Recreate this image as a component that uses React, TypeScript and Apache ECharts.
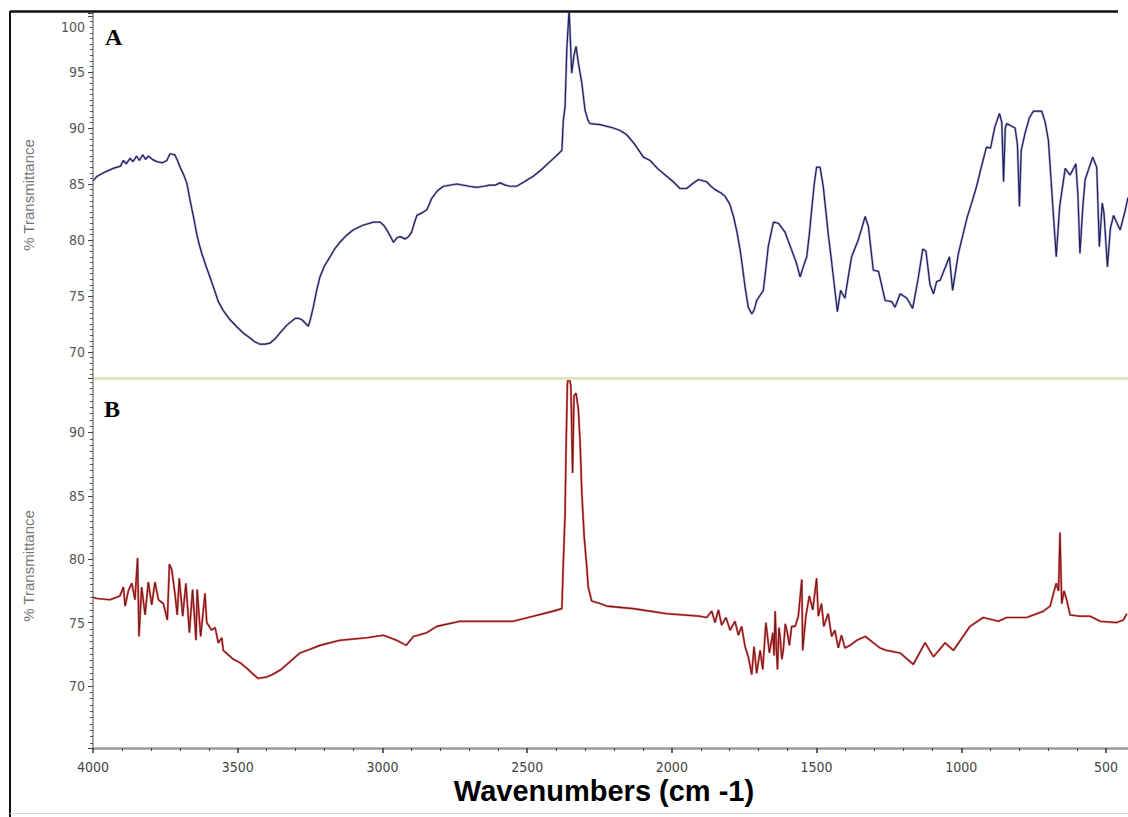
import React, { useEffect, useRef } from "react";
import * as echarts from "echarts";

// Spectrum A: [wavenumber cm-1, % transmittance]
const spectrumA: [number, number][] = [
  [4000, 85.3], [3985, 85.7], [3964, 86.0], [3930, 86.4], [3905, 86.6], [3895, 87.1], [3885, 86.8],
  [3872, 87.3], [3862, 87.0], [3849, 87.5], [3840, 87.1], [3828, 87.6], [3818, 87.2], [3809, 87.5],
  [3795, 87.2], [3780, 87.0], [3760, 86.9], [3745, 87.1], [3734, 87.7], [3717, 87.6], [3708, 87.1],
  [3699, 86.5], [3688, 85.9], [3676, 85.1], [3665, 83.6], [3653, 82.1], [3642, 80.6], [3633, 79.6],
  [3624, 78.8], [3610, 77.7], [3596, 76.7], [3580, 75.5], [3567, 74.5], [3550, 73.7], [3527, 72.9],
  [3505, 72.3], [3481, 71.7], [3455, 71.2], [3440, 70.9], [3423, 70.7], [3405, 70.7], [3388, 70.8],
  [3370, 71.2], [3354, 71.7], [3330, 72.4], [3302, 73.0], [3290, 73.0], [3279, 72.9], [3256, 72.3],
  [3248, 73.0], [3239, 74.0], [3228, 75.4], [3216, 76.7], [3200, 77.7], [3181, 78.5], [3165, 79.2],
  [3147, 79.8], [3125, 80.4], [3101, 80.9], [3070, 81.3], [3031, 81.6], [3008, 81.6], [2995, 81.3],
  [2985, 80.9], [2972, 80.3], [2962, 79.8], [2950, 80.2], [2939, 80.3], [2922, 80.1], [2910, 80.3],
  [2899, 80.7], [2890, 81.5], [2881, 82.2], [2865, 82.4], [2847, 82.7], [2838, 83.2], [2830, 83.7],
  [2810, 84.4], [2789, 84.8], [2743, 85.0], [2700, 84.8], [2674, 84.7], [2650, 84.8], [2630, 84.9],
  [2610, 84.9], [2594, 85.1], [2575, 84.9], [2560, 84.8], [2536, 84.8], [2510, 85.2], [2479, 85.7],
  [2450, 86.3], [2421, 87.0], [2400, 87.5], [2380, 88.0], [2375, 90.7], [2369, 91.9], [2363, 97.0],
  [2355, 100.6], [2346, 94.9], [2338, 96.5], [2331, 97.3], [2323, 95.8], [2311, 94.0], [2300, 91.6],
  [2290, 90.7], [2283, 90.4], [2248, 90.3], [2202, 90.0], [2180, 89.8], [2156, 89.4], [2130, 88.6],
  [2098, 87.4], [2075, 87.1], [2050, 86.4], [2018, 85.7], [1995, 85.2], [1972, 84.6], [1949, 84.6],
  [1930, 85.0], [1908, 85.4], [1880, 85.2], [1865, 84.8], [1851, 84.5], [1830, 84.2], [1816, 83.9],
  [1800, 83.2], [1787, 82.1], [1775, 80.7], [1764, 79.1], [1755, 77.4], [1747, 75.8], [1736, 74.0],
  [1724, 73.4], [1715, 73.8], [1707, 74.6], [1684, 75.5], [1675, 77.5], [1667, 79.4], [1649, 81.6],
  [1632, 81.5], [1609, 80.7], [1586, 79.1], [1569, 77.9], [1557, 76.7], [1546, 77.6], [1534, 78.5],
  [1525, 80.5], [1517, 82.7], [1508, 85.0], [1500, 86.5], [1488, 86.5], [1477, 84.8], [1468, 82.6],
  [1460, 80.6], [1450, 78.5], [1442, 76.7], [1428, 73.6], [1417, 75.5], [1402, 74.8], [1390, 76.8],
  [1379, 78.5], [1356, 80.0], [1332, 82.1], [1321, 81.2], [1304, 77.3], [1286, 77.2], [1263, 74.6],
  [1240, 74.5], [1229, 74.0], [1211, 75.2], [1188, 74.8], [1168, 73.9], [1150, 76.4], [1133, 79.2],
  [1122, 79.0], [1108, 76.0], [1096, 75.2], [1085, 76.3], [1073, 76.4], [1041, 78.5], [1030, 75.5],
  [1010, 78.8], [995, 80.4], [980, 82.0], [962, 83.5], [947, 84.8], [930, 86.6], [913, 88.3],
  [899, 88.2], [884, 90.1], [868, 91.3], [860, 90.5], [854, 85.2], [848, 90.0], [843, 90.4],
  [814, 90.0], [806, 88.5], [799, 83.0], [793, 88.0], [780, 89.5], [765, 90.9], [751, 91.5],
  [722, 91.5], [710, 90.5], [699, 88.9], [685, 83.5], [672, 78.5], [660, 83.0], [641, 86.4],
  [624, 85.8], [604, 86.8], [597, 84.0], [590, 78.8], [580, 83.0], [572, 85.4], [546, 87.4],
  [532, 86.5], [523, 79.4], [513, 83.3], [507, 82.4], [495, 77.6], [485, 81.0], [474, 82.2],
  [451, 80.9], [435, 82.5], [424, 83.8],
];

// Spectrum B: [wavenumber cm-1, % transmittance]
const spectrumB: [number, number][] = [
  [4000, 77.0], [3987, 76.9], [3941, 76.8], [3907, 77.1], [3895, 77.8], [3889, 76.3], [3878, 77.5],
  [3866, 78.1], [3855, 76.8], [3846, 80.1], [3841, 73.9], [3832, 77.8], [3820, 75.6], [3809, 78.2],
  [3797, 76.4], [3786, 78.2], [3774, 76.8], [3757, 76.5], [3743, 75.2], [3736, 79.6], [3728, 79.2],
  [3717, 77.3], [3709, 75.6], [3702, 78.5], [3690, 75.5], [3679, 78.1], [3667, 74.2], [3656, 77.6],
  [3644, 73.6], [3640, 77.6], [3628, 73.9], [3613, 77.3], [3607, 75.0], [3590, 74.4], [3578, 74.6],
  [3567, 73.4], [3555, 73.8], [3550, 72.8], [3530, 72.4], [3515, 72.1], [3490, 71.8], [3469, 71.4],
  [3450, 71.0], [3430, 70.6], [3400, 70.7], [3380, 70.9], [3350, 71.3], [3330, 71.7], [3300, 72.3],
  [3285, 72.6], [3250, 72.9], [3216, 73.2], [3147, 73.6], [3054, 73.8], [2997, 74.0], [2951, 73.6],
  [2918, 73.2], [2893, 73.9], [2847, 74.2], [2812, 74.7], [2732, 75.1], [2640, 75.1], [2548, 75.1],
  [2479, 75.5], [2410, 75.9], [2380, 76.1], [2375, 79.7], [2369, 83.6], [2366, 88.1], [2361, 93.8],
  [2356, 94.6], [2352, 94.0], [2349, 93.7], [2343, 86.8], [2338, 92.9], [2331, 93.1], [2323, 91.8],
  [2317, 89.2], [2311, 85.2], [2303, 81.8], [2294, 79.4], [2289, 77.8], [2277, 76.7], [2248, 76.5],
  [2225, 76.3], [2133, 76.1], [2018, 75.7], [1903, 75.5], [1880, 75.4], [1862, 75.9], [1851, 75.0],
  [1839, 76.0], [1828, 74.8], [1813, 75.4], [1799, 74.4], [1782, 75.1], [1770, 74.0], [1759, 74.7],
  [1747, 73.1], [1736, 72.3], [1724, 70.9], [1716, 73.1], [1707, 71.0], [1695, 72.8], [1686, 71.3],
  [1675, 75.0], [1663, 72.6], [1651, 74.2], [1647, 72.4], [1643, 75.9], [1639, 73.0], [1635, 71.3],
  [1630, 74.6], [1626, 73.9], [1620, 72.1], [1615, 72.8], [1608, 74.9], [1601, 74.2], [1594, 73.2],
  [1586, 74.7], [1574, 74.7], [1563, 75.5], [1551, 78.4], [1548, 72.8], [1537, 75.5], [1525, 77.1],
  [1513, 76.0], [1500, 78.5], [1494, 75.5], [1483, 76.5], [1475, 74.7], [1460, 75.7], [1448, 73.9],
  [1437, 74.4], [1425, 73.0], [1414, 74.0], [1402, 73.0], [1384, 73.2], [1361, 73.6], [1332, 73.9],
  [1309, 73.5], [1281, 73.0], [1258, 72.8], [1211, 72.6], [1166, 71.7], [1125, 73.4], [1096, 72.3],
  [1056, 73.4], [1027, 72.8], [970, 74.7], [924, 75.4], [872, 75.1], [843, 75.4], [774, 75.4],
  [716, 75.9], [693, 76.3], [672, 78.1], [664, 77.5], [659, 82.1], [653, 76.5], [645, 77.5],
  [636, 76.8], [624, 75.6], [590, 75.5], [555, 75.5], [520, 75.1], [463, 75.0], [440, 75.2],
  [428, 75.7],
];

const xTitle = "Wavenumbers (cm -1)";
const yTitle = "% Transmittance";
const panelLabels = ["A", "B"];
const topLabelA = "100";

const labelFont = "'Liberation Sans Narrow', 'DejaVu Sans Condensed', 'Liberation Sans', sans-serif";

export default function App() {
  const ref = useRef<HTMLDivElement>(null);
  useEffect(() => {
    if (!ref.current) return;
    const chart = echarts.init(ref.current, null, { renderer: "svg" });
    const pxPerUnit = 1013 / 3500;
    const gridWidth = 4000 * pxPerUnit;

    const yAxisCommon = {
      type: "value",
      splitLine: { show: false },
      minorSplitLine: { show: false },
      axisLine: { show: true, onZero: false, lineStyle: { color: "#8a8a8a", width: 1.5 } },
      axisTick: { show: true, length: 5, lineStyle: { color: "#444", width: 1 } },
      minorTick: { show: true, splitNumber: 10, length: 3, lineStyle: { color: "#555", width: 1 } },
      axisLabel: {
        show: true,
        margin: 8,
        color: "#555",
        fontSize: 14,
        fontFamily: labelFont,
        showMinLabel: false,
        showMaxLabel: false,
        formatter: (v: number) => (Math.round(v) >= 100 ? "" : String(Math.round(v))),
      },
    };

    chart.setOption({
      animation: false,
      backgroundColor: "#ffffff",
      grid: [
        { left: 93, top: 13, width: gridWidth, height: 365, outerBoundsMode: "none", containLabel: false },
        { left: 93, top: 378, width: gridWidth, height: 370, outerBoundsMode: "none", containLabel: false },
      ],
      xAxis: [
        { gridIndex: 0, type: "value", min: 0, max: 4000, inverse: true, show: false },
        {
          gridIndex: 1,
          type: "value",
          min: 0,
          max: 4000,
          interval: 500,
          inverse: true,
          splitLine: { show: false },
          minorSplitLine: { show: false },
          axisLine: { show: true, onZero: false, lineStyle: { color: "#9a9a9a", width: 2.5 } },
          axisTick: { show: true, length: 5, lineStyle: { color: "#333", width: 1.5 } },
          minorTick: { show: true, splitNumber: 5, length: 3, lineStyle: { color: "#444", width: 1 } },
          axisLabel: {
            margin: 12,
            color: "#444",
            fontSize: 14,
            fontFamily: labelFont,
            showMinLabel: false,
            formatter: (v: number) => (v === 0 ? "" : String(v)),
          },
        },
      ],
      yAxis: [
        { ...yAxisCommon, gridIndex: 0, min: 67.68, max: 100.27 },
        { ...yAxisCommon, gridIndex: 1, min: 65.1, max: 94.3 },
      ],
      series: [
        {
          type: "line", xAxisIndex: 0, yAxisIndex: 0, data: spectrumA, showSymbol: false,
          lineStyle: { color: "#b4b4d8", width: 2.4 }, z: 2, silent: true,
        },
        {
          type: "line", xAxisIndex: 0, yAxisIndex: 0, data: spectrumA, showSymbol: false,
          lineStyle: { color: "#1f1f5c", width: 1.2 }, z: 3, silent: true,
        },
        {
          type: "line", xAxisIndex: 1, yAxisIndex: 1, data: spectrumB, showSymbol: false,
          lineStyle: { color: "#f03030", width: 2.2, opacity: 0.75 }, z: 2, silent: true,
        },
        {
          type: "line", xAxisIndex: 1, yAxisIndex: 1, data: spectrumB, showSymbol: false,
          lineStyle: { color: "#6a1c1c", width: 1.1 }, z: 3, silent: true,
        },
      ],
      graphic: [
        { type: "line", shape: { x1: 10, y1: 11.5, x2: 1118, y2: 11.5 }, style: { stroke: "#111", lineWidth: 2.5 }, z: 10 },
        { type: "line", shape: { x1: 10, y1: 11, x2: 10, y2: 817 }, style: { stroke: "#111", lineWidth: 2 }, z: 10 },
        { type: "line", shape: { x1: 10, y1: 813.5, x2: 1128, y2: 813.5 }, style: { stroke: "#d8d8d8", lineWidth: 1 }, z: 10 },
        { type: "rect", shape: { x: 94, y: 377, width: 1034, height: 3 }, style: { fill: "#e3e3c6" }, z: 9 },
        {
          type: "text", x: 85, y: 27,
          style: { text: topLabelA, fill: "#555", font: "14px " + labelFont, verticalAlign: "middle", align: "right" },
          z: 11,
        },
        {
          type: "text", x: 105, y: 37,
          style: { text: panelLabels[0], fill: "#000", font: "bold 24px 'Liberation Serif', 'Times New Roman', serif", verticalAlign: "middle", align: "left" },
          z: 11,
        },
        {
          type: "text", x: 104, y: 409,
          style: { text: panelLabels[1], fill: "#000", font: "bold 24px 'Liberation Serif', 'Times New Roman', serif", verticalAlign: "middle", align: "left" },
          z: 11,
        },
        {
          type: "text", x: 28, y: 195, rotation: Math.PI / 2,
          style: { text: yTitle, fill: "#777", font: "15px 'Liberation Sans', Arial, sans-serif", verticalAlign: "middle", align: "center" },
          z: 11,
        },
        {
          type: "text", x: 28, y: 566, rotation: Math.PI / 2,
          style: { text: yTitle, fill: "#777", font: "15px 'Liberation Sans', Arial, sans-serif", verticalAlign: "middle", align: "center" },
          z: 11,
        },
        {
          type: "text", x: 604, y: 791,
          style: { text: xTitle, fill: "#000", font: "bold 29px 'Liberation Sans', Arial, sans-serif", verticalAlign: "middle", align: "center" },
          z: 11,
        },
      ],
    });
    return () => chart.dispose();
  }, []);
  return <div ref={ref} style={{ position: "absolute", left: 0, top: 0, width: 1128, height: 817 }} />;
}
